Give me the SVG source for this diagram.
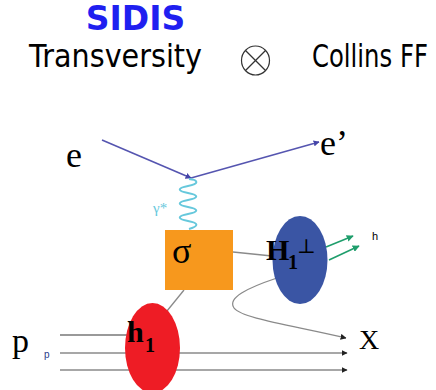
<svg xmlns="http://www.w3.org/2000/svg" width="436" height="390" viewBox="0 0 436 390">
<style>
.hdr{font-family:"DejaVu Sans","Liberation Sans",sans-serif;fill:#000}
.serif{font-family:"Liberation Serif","DejaVu Serif",serif;fill:#000}
.gl{stroke:#8a8a8a;stroke-width:1.3;fill:none}
.el{stroke:#5555b0;stroke-width:1.6;fill:none}
.gr{stroke:#1f9e6c;stroke-width:1.6;fill:none}
</style>
<defs>
<marker id="ab" viewBox="0 0 10 10" refX="9" refY="5" markerWidth="6" markerHeight="6" orient="auto" markerUnits="userSpaceOnUse"><path d="M0,0L10,5L0,10z" fill="#4444a8"/></marker>
<marker id="ak" viewBox="0 0 10 10" refX="9" refY="5" markerWidth="6" markerHeight="6" orient="auto" markerUnits="userSpaceOnUse"><path d="M0,0L10,5L0,10z" fill="#222"/></marker>
<marker id="ag" viewBox="0 0 10 10" refX="9" refY="5" markerWidth="7" markerHeight="7" orient="auto" markerUnits="userSpaceOnUse"><path d="M0,0L10,5L0,10z" fill="#1f9e6c"/></marker>
</defs>
<rect width="436" height="390" fill="#fff"/>
<g id="header">
<text x="135.5" y="30" text-anchor="middle" style="font-family:'DejaVu Sans','Liberation Sans',sans-serif;font-weight:bold;font-size:33px;fill:#1f1ff0">SIDIS</text>
<text class="hdr" x="29" y="67" font-size="32" textLength="173" lengthAdjust="spacingAndGlyphs">Transversity</text>
<g id="otimes" stroke="#333" stroke-width="1.2" fill="none">
<ellipse cx="255.5" cy="60.5" rx="14" ry="14.5"/>
<line x1="245.5" y1="50.5" x2="265.5" y2="70.5"/>
<line x1="265.5" y1="50.5" x2="245.5" y2="70.5"/>
</g>
<g transform="translate(312,67) scale(0.76,1)">
<text class="hdr" x="0" y="0" font-size="32">Collins FF</text>
</g>
</g>
<g id="connectors">
<line class="el" x1="102" y1="140" x2="191" y2="178" marker-end="url(#ab)"/>
<line class="el" x1="191" y1="178" x2="319" y2="142" marker-end="url(#ab)"/>
<path id="photon" d="M189,179 C199,180 199,184 188,186 C177,188 177,191 188,193 C199,195 199,198 188,200 C177,202 177,205 188,207 C199,209 199,212 188,214 C177,216 177,219 188,221 C199,223 199,226 189,229" stroke="#66c8dc" stroke-width="2" fill="none"/>
<line class="gl" x1="233" y1="252" x2="272" y2="256"/>
<line class="gl" x1="184" y1="290" x2="167" y2="311"/>
<path class="gl" d="M277,278 C247,288 227,298 234,308 C241,318 290,325 346,338" marker-end="url(#ak)"/>
<line x1="60" y1="335" x2="128" y2="335" stroke="#777" stroke-width="1.5"/>
<line class="gl" x1="60" y1="353" x2="347" y2="353" marker-end="url(#ak)"/>
<line class="gl" x1="60" y1="370" x2="347" y2="370" marker-end="url(#ak)"/>
<line class="gr" x1="326" y1="247" x2="353" y2="236" marker-end="url(#ag)"/>
<line class="gr" x1="329" y1="260" x2="359" y2="246" marker-end="url(#ag)"/>
</g>
<g id="node-sigma">
<rect x="165" y="230" width="68" height="60" fill="#f7981d"/>
<text class="serif" x="172" y="263" font-size="36">σ</text>
</g>
<g id="node-H1perp">
<ellipse cx="300" cy="260" rx="27.5" ry="44" fill="#3a55a4"/>
<text class="serif" x="266" y="260" font-size="30" font-weight="bold">H</text>
<text class="serif" x="288" y="269" font-size="20" font-weight="bold">1</text>
<text class="serif" x="297" y="253" font-size="20">⊥</text>
</g>
<g id="node-h1">
<ellipse cx="152.5" cy="348" rx="27.5" ry="45" fill="#ee1c25"/>
<text class="serif" x="127" y="342" font-size="30" font-weight="bold">h</text>
<text class="serif" x="145" y="352" font-size="20" font-weight="bold">1</text>
</g>
<g id="labels">
<text class="serif" x="66" y="167" font-size="36">e</text>
<text class="serif" x="320" y="155" font-size="36">e’</text>
<text x="153" y="213" font-size="15" style="font-family:'Liberation Serif',serif;fill:#66c8dc">γ*</text>
<text x="372" y="240" font-size="11" style="font-family:'Liberation Sans',sans-serif;fill:#000">h</text>
<text class="serif" x="359" y="349" font-size="28">X</text>
<text class="serif" x="12" y="352" font-size="34">p</text>
<text x="44" y="358" font-size="10" style="font-family:'Liberation Sans',sans-serif;fill:#2a3a8a">p</text>
</g>
</svg>
